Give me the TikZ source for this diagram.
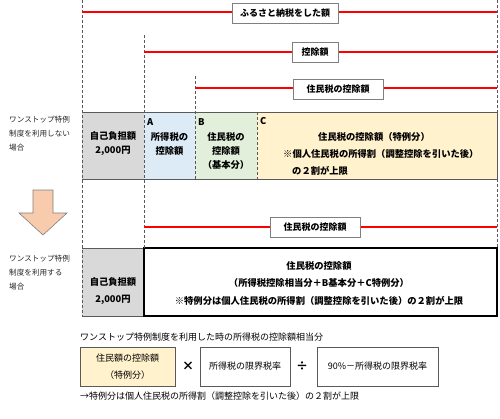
\documentclass[tikz,border=0pt]{standalone}
\usepackage{fontspec}
\setmainfont{Noto Sans CJK JP}
\definecolor{dgray}{HTML}{595959}
\definecolor{lgray}{HTML}{7F7F7F}
\definecolor{boxgray}{HTML}{D9D9D9}
\definecolor{boxblue}{HTML}{DDEBF7}
\definecolor{boxgreen}{HTML}{E2EFDA}
\definecolor{boxyellow}{HTML}{FFF2CC}
\definecolor{peach}{HTML}{F8CBAD}
\definecolor{redl}{HTML}{FF0000}
\tikzset{
  dline/.style={draw=dgray, dash pattern=on 3pt off 2pt, line width=0.9pt},
  redline/.style={draw=redl, line width=1.1pt},
  lbl/.style={draw=lgray, fill=white, line width=0.7pt, inner sep=0pt, minimum height=20pt, font=\bfseries\fontsize{9}{10}\selectfont},
  btxt/.style={inner sep=0pt, align=center, font=\bfseries\fontsize{9.3}{14}\selectfont},
  rtxt/.style={inner sep=0pt, font=\fontsize{9}{17}\selectfont},
  sidetxt/.style={inner sep=0pt, align=left, text=black!85, font=\fontsize{7.6}{14}\selectfont},
  frame/.style={draw=dgray, line width=0.8pt}
}
\begin{document}
\begin{tikzpicture}[x=1pt,y=-1pt]
\useasboundingbox (0,0) rectangle (500,418);
% row 1 fills
\fill[boxgray] (82,112) rectangle (144,179);
\fill[boxblue] (144,112) rectangle (195,179);
\fill[boxgreen] (195,112) rectangle (257,179);
\fill[boxyellow] (257,112) rectangle (497,179);
\draw[frame] (82,112) -- (497,112) -- (497,179) -- (82,179);
\draw[dline] (257,112) -- (257,179);
% row 2
\fill[boxgray] (82,248) rectangle (144,316);
\draw[frame] (82,248) -- (144,248) (82,316) -- (144,316);
\draw[black, line width=2.6pt] (144,248) rectangle (497,316);
% vertical dashed lines
\coordinate (v1t) at (82,0); \coordinate (v1b) at (82,316);
\coordinate (v2t) at (144,35); \coordinate (v2b) at (144,248);
\coordinate (v3t) at (195,76); \coordinate (v3b) at (195,179);
\coordinate (v4t) at (497,0); \coordinate (v4b) at (497,112);
\coordinate (v5t) at (497,179); \coordinate (v5b) at (497,248);
\draw[dline] (v1t) -- (v1b);
\draw[dline] (v2t) -- (v2b);
\draw[dline] (v3t) -- (v3b);
\draw[dline] (v4t) -- (v4b);
\draw[dline] (v5t) -- (v5b);
% red lines with labels
\coordinate (r1a) at (82,12); \coordinate (r1b) at (497,12);
\coordinate (r2a) at (144,52); \coordinate (r2b) at (497,52);
\coordinate (r3a) at (195,88); \coordinate (r3b) at (497,88);
\coordinate (r4a) at (144,227); \coordinate (r4b) at (497,227);
\draw[redline] (r1a) -- (r1b);
\draw[redline] (r2a) -- (r2b);
\draw[redline] (r3a) -- (r3b);
\draw[redline] (r4a) -- (r4b);
\node[lbl, minimum width=106pt] (l1) at (285,13) {ふるさと納税をした額};
\node[lbl, minimum width=46pt] (l2) at (315,52) {控除額};
\node[lbl, minimum width=90pt] (l3) at (338,89) {住民税の控除額};
\node[lbl, minimum width=90pt] (l4) at (315,227) {住民税の控除額};
% side texts
\node[sidetxt, anchor=west] (s1) at (9,134) {ワンストップ特例\\制度を利用しない\\場合};
\node[sidetxt, anchor=west] (s2) at (9,273) {ワンストップ特例\\制度を利用する\\場合};
% row 1 texts
\node[btxt] (g1) at (113,144) {自己負担額\\2,000円};
\node[btxt, anchor=west] (ta) at (147,122) {A};
\node[btxt] (a1) at (169.5,144) {所得税の\\控除額};
\node[btxt, anchor=west] (tb) at (198,122) {B};
\node[btxt] (b1) at (226,151) {住民税の\\控除額\\（基本分）};
\node[btxt, anchor=west] (tc) at (260,121) {C};
\node[btxt] (c1) at (374,137) {住民税の控除額（特例分）};
\node[btxt, anchor=west] (c2) at (283,154) {※個人住民税の所得割（調整控除を引いた後）};
\node[btxt, anchor=west] (c3) at (292,171) {の２割が上限};
% arrow
\draw[lgray, fill=peach, line width=0.6pt] (33,190) -- (53,190) -- (53,213) -- (67,213) -- (43,235) -- (19,213) -- (33,213) -- cycle;
% row 2 texts
\node[btxt, font=\bfseries\fontsize{9.3}{17}\selectfont] (g2) at (113,291) {自己負担額\\2,000円};
\node[btxt, font=\bfseries\fontsize{9.3}{17.5}\selectfont] (d1) at (319,283) {住民税の控除額\\（所得税控除相当分＋B基本分＋C特例分）\\※特例分は個人住民税の所得割（調整控除を引いた後）の２割が上限};
% bottom
\node[rtxt, anchor=west] (t1) at (80,337) {ワンストップ特例制度を利用した時の所得税の控除額相当分};
\node[rtxt, draw=dgray, line width=0.8pt, fill=boxyellow, minimum width=95pt, minimum height=39pt, align=center] (f1) at (127.5,366.5) {住民額の控除額\\（特例分）};
\node[rtxt, font=\bfseries\fontsize{12}{12}\selectfont] (x1) at (188,366) {×};
\node[rtxt, draw=dgray, line width=0.8pt, minimum width=90pt, minimum height=39pt] (f2) at (245,366.5) {所得税の限界税率};
\node[rtxt, font=\bfseries\fontsize{12}{12}\selectfont] (x2) at (302,366) {÷};
\node[rtxt, draw=dgray, line width=0.8pt, minimum width=121pt, minimum height=39pt] (f3) at (377.5,366.5) {90\%－所得税の限界税率};
\node[rtxt, anchor=west] (t2) at (80,396) {→特例分は個人住民税の所得割（調整控除を引いた後）の２割が上限};
\end{tikzpicture}
\end{document}
